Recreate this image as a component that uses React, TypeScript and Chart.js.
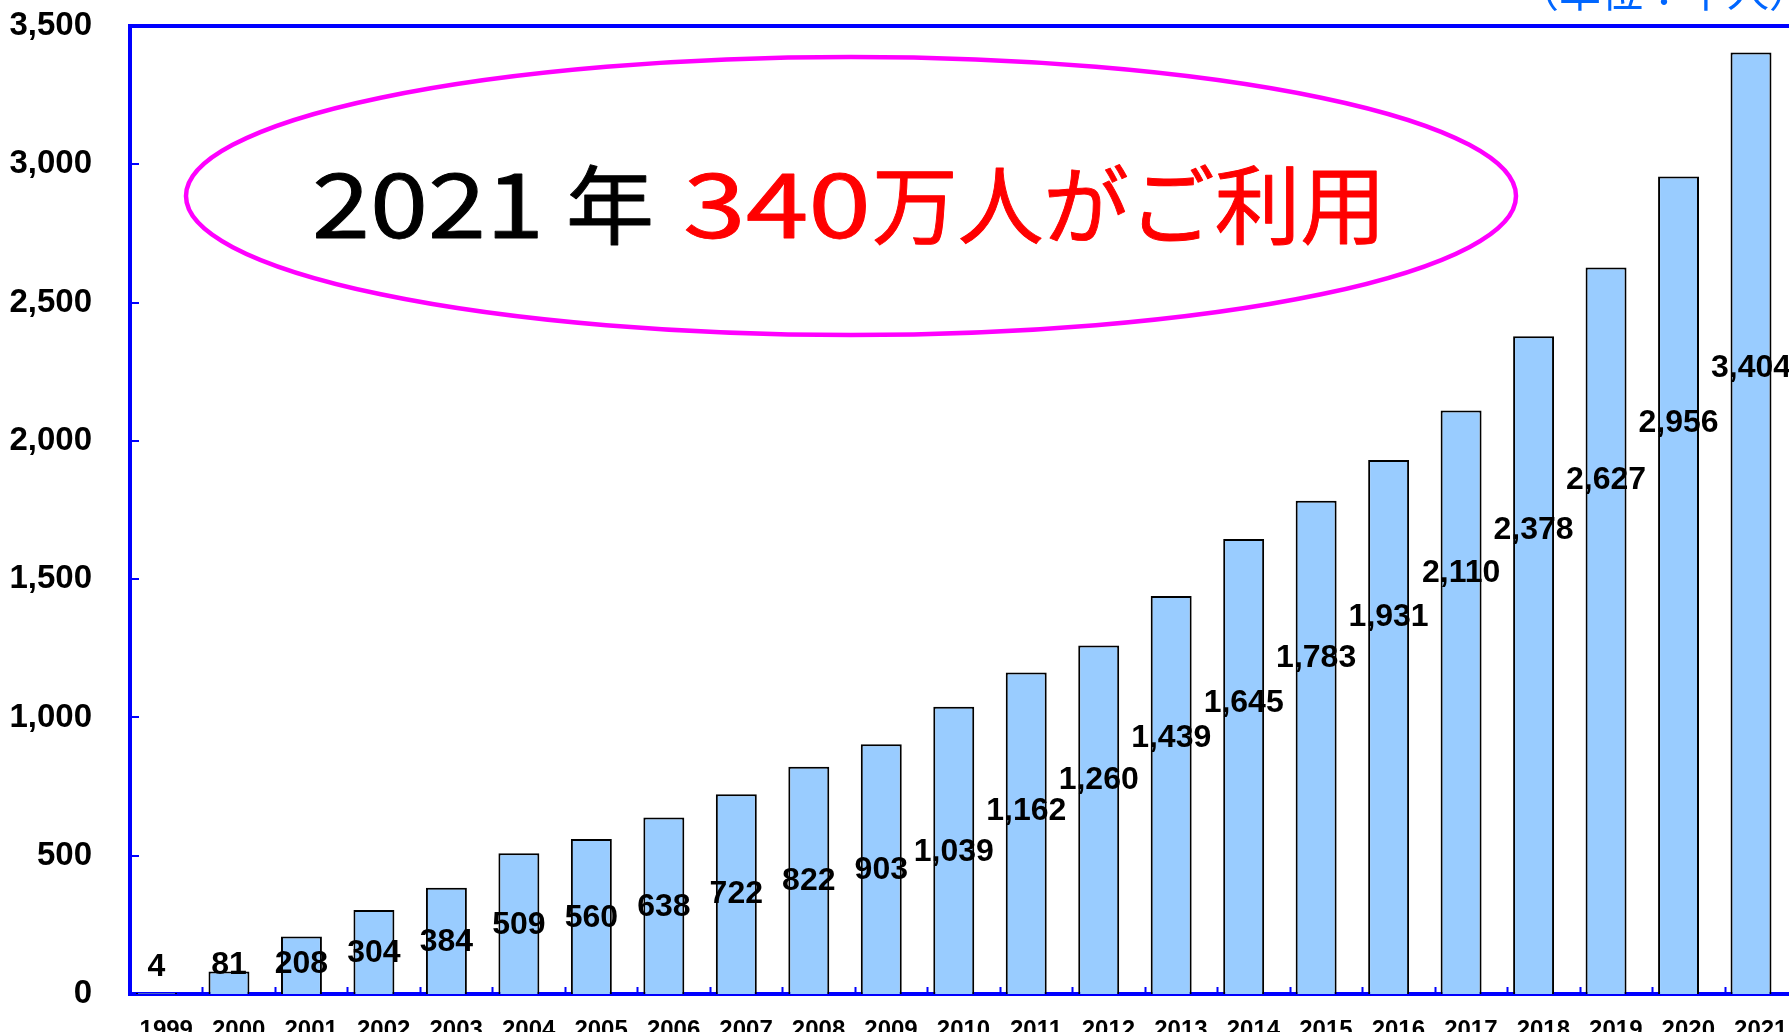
import React, { useEffect, useRef } from 'react';
import { Chart, registerables } from 'chart.js';

Chart.register(...registerables);

// ---- data ----
const years = ['1999', '2000', '2001', '2002', '2003', '2004', '2005', '2006', '2007', '2008', '2009', '2010', '2011', '2012', '2013', '2014', '2015', '2016', '2017', '2018', '2019', '2020', '2021'];
const users = [4, 81, 208, 304, 384, 509, 560, 638, 722, 822, 903, 1039, 1162, 1260, 1439, 1645, 1783, 1931, 2110, 2378, 2627, 2956, 3404];
// where each value label sits, in axis units
const labelAnchors = [98, 105, 108, 148, 188, 249, 275, 315, 362, 409, 448, 513, 662, 774, 926, 1052, 1215, 1363, 1522, 1678, 1858, 2064, 2263];
const yMin = 0;
const yMax = 3500;
const yStep = 500;
const titleYear = '2021';
const titleYearSuffix = '年';
const titleNumber = '340';
const titleRest = '万人がご利用';
const unitLabel = '（単位：千人）';

const AXIS_BLUE = '#0000ff';
const BAR_FILL = '#99ccff';
const LATIN = "'Liberation Sans', Arial, sans-serif";
const CJK = "'Noto Sans CJK JP', 'Noto Sans', sans-serif";

const fmt = (v: number) => Number(v).toLocaleString('en-US');

const overlayPlugin = {
  id: 'overlay',
  afterDatasetsDraw(chart: any) {
    const { ctx, chartArea, scales } = chart;
    const xs = scales.x;
    const ys = scales.y;
    ctx.save();
    // top frame line
    ctx.strokeStyle = AXIS_BLUE;
    ctx.lineWidth = 4;
    ctx.beginPath();
    ctx.moveTo(chartArea.left - 2, chartArea.top);
    ctx.lineTo(chartArea.right, chartArea.top);
    ctx.moveTo(chartArea.right, chartArea.top);
    ctx.lineTo(chartArea.right, chartArea.bottom);
    ctx.stroke();
    // inward y ticks
    ctx.lineWidth = 2;
    ctx.beginPath();
    for (let v = yMin + yStep; v < yMax; v += yStep) {
      const y = Math.round(ys.getPixelForValue(v));
      ctx.moveTo(chartArea.left, y);
      ctx.lineTo(chartArea.left + 9, y);
    }
    ctx.stroke();
    // inward x ticks at category boundaries
    const half = (xs.getPixelForValue(1) - xs.getPixelForValue(0)) / 2;
    ctx.beginPath();
    for (let i = 1; i < years.length; i++) {
      const x = Math.round(xs.getPixelForValue(i) - half) + 0.5;
      ctx.moveTo(x, chartArea.bottom);
      ctx.lineTo(x, chartArea.bottom - 7);
    }
    ctx.stroke();

    // value labels
    const meta = chart.getDatasetMeta(0);
    ctx.fillStyle = '#000';
    ctx.font = `bold 32px ${LATIN}`;
    ctx.textAlign = 'center';
    ctx.textBaseline = 'middle';
    meta.data.forEach((bar: any, i: number) => {
      ctx.fillText(fmt(users[i]), bar.x, ys.getPixelForValue(labelAnchors[i]));
    });

    // ellipse callout
    ctx.strokeStyle = '#ff00ff';
    ctx.lineWidth = 4.5;
    ctx.beginPath();
    ctx.ellipse(851, 196, 665, 139, 0, 0, Math.PI * 2);
    ctx.stroke();

    const seg = (text: string, x: number, width: number, size: number, color: string) => {
      ctx.save();
      ctx.font = `400 ${size}px ${CJK}`;
      ctx.fillStyle = color;
      ctx.strokeStyle = color;
      ctx.lineWidth = 0.9;
      ctx.lineJoin = 'round';
      ctx.textAlign = 'left';
      ctx.textBaseline = 'alphabetic';
      const w = ctx.measureText(text).width;
      ctx.translate(x, 238);
      ctx.scale(width / w, 1);
      ctx.fillText(text, 0, 0);
      ctx.strokeText(text, 0, 0);
      ctx.restore();
    };
    seg(titleYear, 312, 232, 90, '#000');
    seg(titleYearSuffix, 566, 88, 86, '#000');
    seg(titleNumber, 683, 188, 90, '#ff0000');
    seg(titleRest, 872, 514, 86, '#ff0000');

    // unit label (clipped at top)
    ctx.font = `42px ${CJK}`;
    ctx.fillStyle = '#0066ff';
    ctx.textAlign = 'left';
    ctx.textBaseline = 'alphabetic';
    ctx.fillText(unitLabel, 1517, 7);
    ctx.restore();
  },
};

export default function App() {
  const ref = useRef<HTMLCanvasElement | null>(null);
  useEffect(() => {
    if (!ref.current) return;
    const chart = new Chart(ref.current, {
      type: 'bar',
      data: {
        labels: years,
        datasets: [
          {
            data: users,
            backgroundColor: BAR_FILL,
            borderColor: '#000',
            borderWidth: 2,
            barPercentage: 2.1,
            categoryPercentage: 0.538,
          },
          {
            data: users.map(() => 0),
            backgroundColor: 'rgba(0,0,0,0)',
            borderWidth: 0,
            barPercentage: 2.1,
            categoryPercentage: 0.538,
          },
        ],
      },
      options: {
        responsive: false,
        animation: false,
        layout: { padding: { top: 26, right: 13, left: 0, bottom: 0 } },
        plugins: { legend: { display: false }, tooltip: { enabled: false } },
        scales: {
          x: {
            grid: { display: false },
            border: { color: AXIS_BLUE, width: 4 },
            ticks: {
              color: '#000',
              font: { family: LATIN, weight: 'bold', size: 24 },
              padding: 14,
              maxRotation: 0,
              autoSkip: false,
            },
            afterFit: (s: any) => {
              s.height = 56;
              s.paddingLeft = 0;
              s.paddingRight = 0;
            },
          },
          y: {
            min: yMin,
            max: yMax,
            grid: { display: false },
            border: { color: AXIS_BLUE, width: 4 },
            ticks: {
              stepSize: yStep,
              padding: 30,
              color: '#000',
              font: { family: LATIN, weight: 'bold', size: 33 },
              callback: (v: any) => fmt(v),
            },
            afterFit: (s: any) => {
              s.width = 130;
              s.paddingTop = 0;
              s.paddingBottom = 0;
            },
          },
        },
      },
      plugins: [overlayPlugin],
    } as any);
    return () => chart.destroy();
  }, []);
  return (
    <div style={{ position: 'fixed', left: 0, top: 0, width: 1789, height: 1032, overflow: 'hidden', background: '#fff' }}>
      <canvas ref={ref} width={1810} height={1050} style={{ display: 'block' }} />
    </div>
  );
}
